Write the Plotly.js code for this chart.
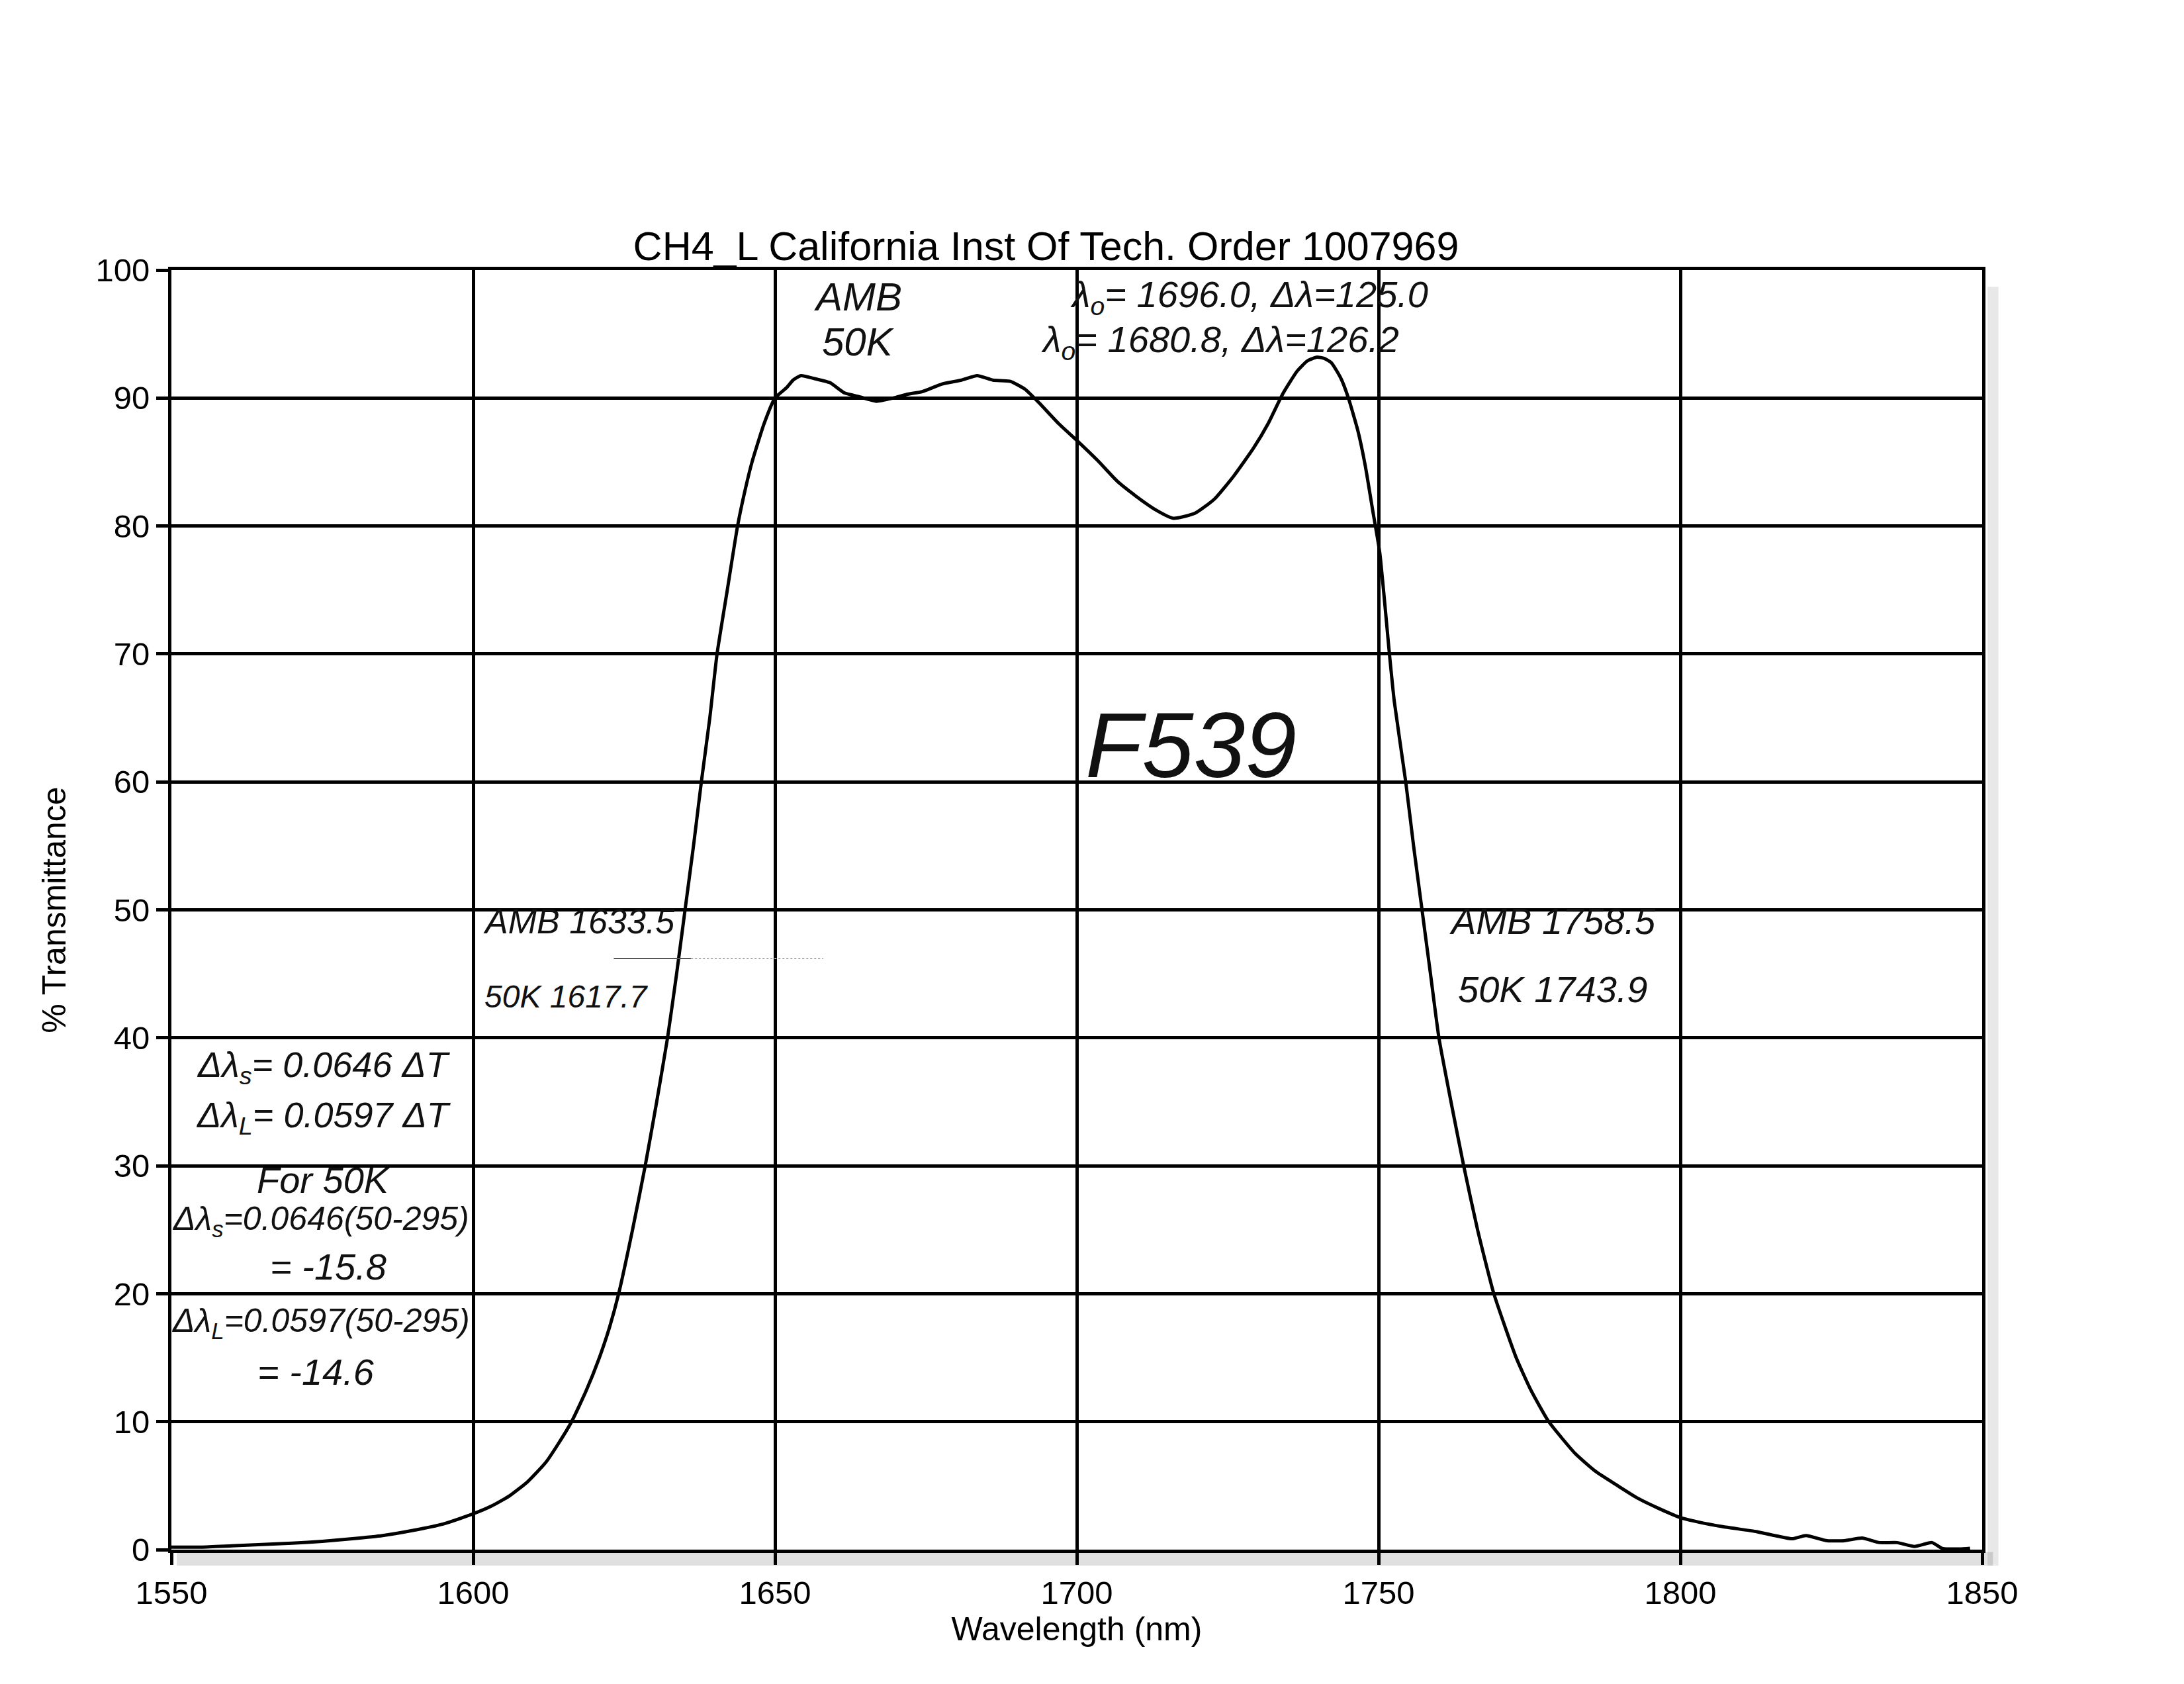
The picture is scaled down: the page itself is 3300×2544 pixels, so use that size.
<!DOCTYPE html>
<html>
<head>
<meta charset="utf-8">
<script src="https://cdn.plot.ly/plotly-3.0.1.min.js"></script>
<style>html,body{margin:0;padding:0;background:#fff;}#chart{width:3300px;height:2544px;}</style>
</head>
<body>
<div id="chart"></div>
<script>
// Wavelength (nm)
const wavelength = [1550,1555,1560,1565,1570,1575,1580,1585,1590,1595,1600,1603,1606,1609,1612,1614,1616.3,1618.7,1620.9,1622.6,1624.1,1626.4,1628.5,1630.4,1632.2,1633.7,1635.1,1636.5,1637.8,1639.2,1640.4,1642.1,1643.8,1645,1646.2,1648.2,1650,1651.9,1653,1654.3,1656.7,1659.1,1661.5,1664,1666.8,1669.6,1672,1674.4,1677.7,1680.9,1683.5,1686.1,1689,1691.4,1693.8,1697,1700.1,1703.5,1706.7,1709.9,1713.1,1716,1719.6,1722.8,1726,1729.3,1731.7,1734.1,1736.5,1738.2,1739.8,1741,1742.2,1743.8,1745,1746.6,1747.8,1749,1750.2,1751.8,1752.6,1754.5,1755.8,1757.2,1758.6,1760,1762,1764.1,1766.4,1769.1,1772.8,1775.2,1778.2,1782.6,1786,1789.6,1793,1796.5,1800,1803.5,1807,1812.7,1818.5,1820.8,1824.3,1827.2,1830.1,1833,1835.9,1838.8,1841.7,1843.4,1846.3,1848];
// % Transmittance
const transmittance = [0.2,0.2,0.3,0.4,0.5,0.65,0.85,1.1,1.5,2.0,2.8,3.4,4.2,5.3,6.8,8.2,10,12.4,15,17.4,20,25,30,35,40,45,50,55,60,65,70,75,80,82.7,85,88,90,90.8,91.4,91.75,91.5,91.2,90.4,90.1,89.75,90.0,90.3,90.5,91.1,91.4,91.75,91.4,91.3,90.7,89.6,88.0,86.65,85.1,83.5,82.3,81.25,80.6,81.0,82.1,83.9,86.1,88.0,90.3,92.1,92.9,93.2,93.1,92.75,91.5,90.0,87.4,84.7,81.3,77.9,70,66.3,60,55,50,45,40,35,30,25,20,15,12.5,10,7.5,6.1,5,4,3.2,2.5,2.1,1.8,1.4,0.85,1.1,0.7,0.7,0.9,0.55,0.55,0.25,0.55,0.1,0.05,0.1];

const xTickVals = [1550,1600,1650,1700,1750,1800,1850];
const yTickVals = [0,10,20,30,40,50,60,70,80,90,100];

const chartTitle = "CH4_L California Inst Of Tech. Order 1007969";
const xTitle = "Wavelength (nm)";
const yTitle = "% Transmittance";

const noteTop = ["AMB", "50K", "λ<sub>o</sub>= 1696.0, Δλ=125.0", "λ<sub>o</sub>= 1680.8, Δλ=126.2"];
const noteId = "F539";
const noteEdges = ["AMB 1633.5", "50K 1617.7", "AMB 1758.5", "50K 1743.9"];
const noteBox = ["Δλ<sub>s</sub>= 0.0646 ΔT", "Δλ<sub>L</sub>= 0.0597 ΔT", "For 50K", "Δλ<sub>s</sub>=0.0646(50-295)", "= -15.8", "Δλ<sub>L</sub>=0.0597(50-295)", "= -14.6"];

const FONT = "Liberation Sans, Arial, sans-serif";
const hand = (size) => ({family: FONT, size: size, color: "#111", style: "italic"});

function ann(text, x, y, size, xanchor) {
  return {text: text, x: x, y: y, xref: "x", yref: "y", showarrow: false,
          xanchor: xanchor || "center", yanchor: "middle", font: hand(size)};
}

const annotations = [
  ann(noteTop[0], 1663.8, 97.9, 60),
  ann(noteTop[1], 1663.8, 94.4, 60),
  ann(noteTop[2], 1728.6, 97.9, 56),
  ann(noteTop[3], 1723.7, 94.4, 56),
  ann(noteId, 1718.9, 62.9, 140),
  ann(noteEdges[0], 1617.5, 49.1, 52),
  ann(noteEdges[1], 1615.5, 43.2, 48),
  ann(noteEdges[2], 1778.8, 49.1, 56),
  ann(noteEdges[3], 1778.8, 43.8, 56),
  ann(noteBox[0], 1575.2, 37.7, 54),
  ann(noteBox[1], 1575.2, 33.8, 54),
  ann(noteBox[2], 1575.2, 28.9, 56),
  ann(noteBox[3], 1574.8, 25.7, 50),
  ann(noteBox[4], 1576.0, 22.1, 56),
  ann(noteBox[5], 1574.8, 17.7, 50),
  ann(noteBox[6], 1574.0, 13.9, 56)
];

const axisCommon = {
  showgrid: true, gridcolor: "#000", gridwidth: 5,
  showline: true, linecolor: "#000", linewidth: 5, mirror: true,
  ticks: "outside", ticklen: 18, tickwidth: 5, tickcolor: "#000",
  tickfont: {family: FONT, size: 49, color: "#000"},
  zeroline: false, automargin: false, tickmode: "array"
};

const layout = {
  width: 3300, height: 2544,
  margin: {l: 259, r: 305, t: 408, b: 203},
  paper_bgcolor: "#fff", plot_bgcolor: "#fff",
  showlegend: false,
  title: {text: chartTitle, font: {family: FONT, size: 61, color: "#000"},
          x: 0.483, xref: "paper", xanchor: "center",
          y: 1 - 372/2544, yref: "container", yanchor: "middle"},
  xaxis: Object.assign({}, axisCommon, {
    range: [1550, 1850], tickvals: xTickVals, ticktext: xTickVals.map(String),
    title: {text: xTitle, font: {family: FONT, size: 50, color: "#000"}, standoff: 12}
  }),
  yaxis: Object.assign({}, axisCommon, {
    range: [0, 100], tickvals: yTickVals, ticktext: yTickVals.map(String),
    title: {text: yTitle, font: {family: FONT, size: 50, color: "#000"}, standoff: 30}
  }),
  annotations: annotations,
  shapes: [
    {type: "rect", xref: "paper", yref: "paper", x0: 0.003, x1: 1.006, y0: -0.0125, y1: -0.002,
     fillcolor: "rgba(0,0,0,0.12)", line: {width: 0}, layer: "below"},
    {type: "rect", xref: "paper", yref: "paper", x0: 1.003, x1: 1.009, y0: -0.0125, y1: 0.987,
     fillcolor: "rgba(0,0,0,0.09)", line: {width: 0}, layer: "below"},
    {type: "line", xref: "x", yref: "y", x0: 1623.3, x1: 1636.1, y0: 46.2, y1: 46.2,
     line: {color: "#555", width: 2}},
    {type: "line", xref: "x", yref: "y", x0: 1636.1, x1: 1658, y0: 46.2, y1: 46.2,
     line: {color: "#aaa", width: 2, dash: "dot"}}
  ]
};

const trace = {
  x: wavelength, y: transmittance, type: "scatter", mode: "lines",
  line: {color: "#000", width: 5, shape: "spline", smoothing: 0.5},
  hoverinfo: "skip"
};

Plotly.newPlot("chart", [trace], layout, {staticPlot: true, displayModeBar: false});
</script>
</body>
</html>
